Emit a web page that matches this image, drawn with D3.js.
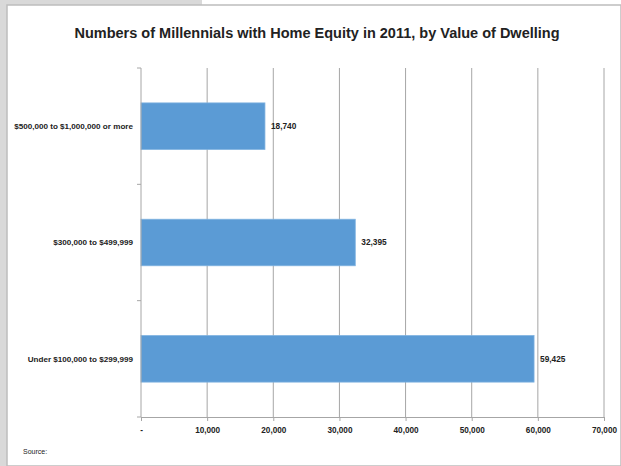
<!DOCTYPE html>
<html>
  <head>
    <style>
      body { margin: 0; background: #fff; }
      text { font-family: "Liberation Sans", Arial, sans-serif; fill: #222; }
    </style>
  </head>
  <body>
    <script src="https://d3js.org/d3.v7.min.js"></script>
    <script>
      // data
      var categories = ["$500,000 to $1,000,000 or more", "$300,000 to $499,999", "Under $100,000 to $299,999"];
      var values = [18740, 32395, 59425];
      var xTicks = [0, 10000, 20000, 30000, 40000, 50000, 60000, 70000];
      var title = "Numbers of Millennials with Home Equity in 2011, by Value of Dwelling";

      var W = 621, H = 466;
      var plotL = 141, plotR = 604, plotT = 68, plotB = 417;

      var svg = d3.select("body").append("svg")
        .attr("width", W).attr("height", H);

      // grey window frame
      svg.append("rect").attr("x", 0).attr("y", 0).attr("width", W).attr("height", H).attr("fill", "#d9d9d9");
      svg.append("rect").attr("x", 202).attr("y", 0).attr("width", W - 202).attr("height", 5).attr("fill", "#fff");
      svg.append("rect").attr("x", 7).attr("y", 5).attr("width", W - 7).attr("height", H - 5)
        .attr("fill", "#fff").attr("stroke", "#bdbdbd").attr("stroke-width", 1.5);

      svg.append("text")
        .attr("x", 317).attr("y", 38)
        .attr("text-anchor", "middle")
        .style("font-size", "14.5px").style("font-weight", "bold")
        .text(title);

      var x = d3.scaleLinear().domain([0, 70000]).range([plotL, plotR]);
      var y = d3.scaleBand().domain(categories).range([plotT, plotB]).paddingInner(0.6).paddingOuter(0.3);

      // vertical gridlines
      svg.append("g").selectAll("line").data(xTicks.slice(1)).enter().append("line")
        .attr("x1", function(d){ return x(d); }).attr("x2", function(d){ return x(d); })
        .attr("y1", plotT).attr("y2", plotB)
        .attr("stroke", "#a6a6a6").attr("stroke-width", 1);

      // bars
      svg.append("g").selectAll("rect").data(values).enter().append("rect")
        .attr("x", x(0))
        .attr("y", function(d, i){ return y(categories[i]); })
        .attr("width", function(d){ return x(d) - x(0); })
        .attr("height", y.bandwidth())
        .attr("fill", "#5b9bd5")
        .attr("stroke", "#7fb2e0").attr("stroke-width", 0.8);

      // value labels
      svg.append("g").selectAll("text").data(values).enter().append("text")
        .attr("x", function(d){ return x(d) + 6; })
        .attr("y", function(d, i){ return y(categories[i]) + y.bandwidth() / 2; })
        .attr("dy", "0.35em")
        .style("font-size", "8.3px").style("font-weight", "bold")
        .text(function(d){ return d3.format(",")(d); });

      // x axis
      var xAxis = d3.axisBottom(x).tickValues(xTicks).tickSizeOuter(0).tickSize(4).tickPadding(6)
        .tickFormat(function(d){ return d === 0 ? "-" : d3.format(",")(d); });
      var gx = svg.append("g").attr("transform", "translate(0," + plotB + ")").call(xAxis);
      gx.select(".domain").attr("stroke", "#a6a6a6");
      gx.selectAll(".tick line").attr("stroke", "#a6a6a6");
      gx.selectAll("text").style("font-size", "8.2px").style("font-weight", "bold").style("fill", "#222")
        .style("font-family", "Liberation Sans, Arial, sans-serif");

      // y axis: ticks at category boundaries
      var bounds = [plotT].concat(categories.map(function(c, i){ return plotT + (plotB - plotT) * (i + 1) / categories.length; }));
      svg.append("line").attr("x1", plotL).attr("x2", plotL).attr("y1", plotT).attr("y2", plotB)
        .attr("stroke", "#a6a6a6");
      svg.append("g").selectAll("line").data(bounds).enter().append("line")
        .attr("x1", plotL - 4).attr("x2", plotL)
        .attr("y1", function(d){ return d; }).attr("y2", function(d){ return d; })
        .attr("stroke", "#a6a6a6");

      // category labels
      svg.append("g").selectAll("text").data(categories).enter().append("text")
        .attr("x", 133)
        .attr("y", function(d){ return y(d) + y.bandwidth() / 2; })
        .attr("dy", "0.35em")
        .attr("text-anchor", "end")
        .style("font-size", "8.1px").style("font-weight", "bold")
        .text(function(d){ return d; });

      svg.append("text")
        .attr("x", 23).attr("y", 454)
        .style("font-size", "7px")
        .text("Source:");
    </script>
  </body>
</html>
